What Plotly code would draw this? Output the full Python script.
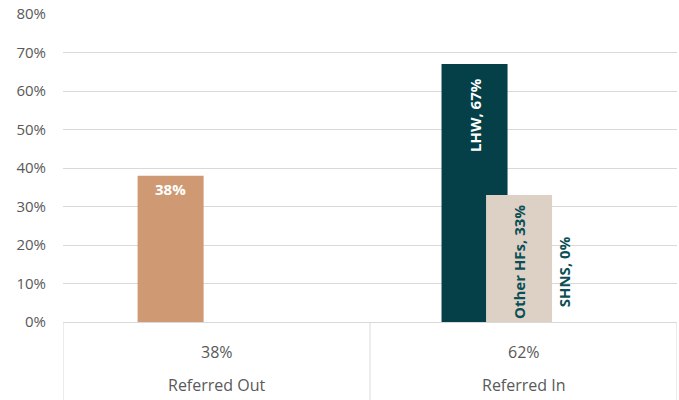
import plotly.graph_objects as go

categories = ["Referred Out", "Referred In"]
category_shares = ["38%", "62%"]

out_value = [0.38]
out_label = ["38%"]
lhw_value = [0.67]
lhw_label = ["LHW, 67%"]
other_value = [0.33]
other_label = ["Other HFs, 33%"]
shns_value = [0.0]
shns_label = ["SHNS, 0%"]

TAN = "#CF9A73"
TEAL = "#053F47"
BEIGE = "#DDD1C6"
TEXT_TEAL = "#0B4E55"
GRID = "#D9D9D9"
GRAY = "#595959"
FONT = "Open Sans"
BW = 0.215
PAD = "\u00a0\u00a0\u00a0"

fig = go.Figure()
fig.add_trace(go.Bar(x=["Referred Out"], y=out_value, text=out_label, width=BW, offset=-0.257,
                     marker=dict(color=TAN, line=dict(width=0)), textposition="inside",
                     insidetextanchor="end", textangle=0, constraintext="none",
                     textfont=dict(color="white", size=15, family=FONT, weight="bold")))
fig.add_trace(go.Bar(x=["Referred In"], y=lhw_value, text=[t + PAD for t in lhw_label], width=BW,
                     offset=-0.267, constraintext="none",
                     marker=dict(color=TEAL, line=dict(width=0)), textposition="inside",
                     insidetextanchor="end", textangle=-90,
                     textfont=dict(color="white", size=15, family=FONT, weight="bold")))
fig.add_trace(go.Bar(x=["Referred In"], y=other_value, text=other_label, width=BW, offset=-0.122,
                     marker=dict(color=BEIGE, line=dict(width=0)), textposition="inside",
                     insidetextanchor="start", textangle=-90, constraintext="none",
                     textfont=dict(color=TEXT_TEAL, size=15, family=FONT, weight="bold")))
fig.add_trace(go.Bar(x=["Referred In"], y=shns_value, text=[PAD + t for t in shns_label], width=BW,
                     offset=0.025, constraintext="none",
                     marker=dict(color=BEIGE, line=dict(width=0)), textposition="outside",
                     textangle=-90, cliponaxis=False,
                     textfont=dict(color=TEXT_TEAL, size=15, family=FONT, weight="bold")))

# table-like category axis
for cat, share in zip(categories, category_shares):
    fig.add_annotation(x=cat, y=-0.097, xref="x", yref="paper", text=share, showarrow=False,
                       font=dict(size=16, color=GRAY, family=FONT), yanchor="middle")
    fig.add_annotation(x=cat, y=-0.205, xref="x", yref="paper", text=cat, showarrow=False,
                       font=dict(size=16, color=GRAY, family=FONT), yanchor="middle")

for xb in [-0.5, 0.5, 1.5]:
    fig.add_shape(type="line", xref="x", yref="paper", x0=xb, x1=xb, y0=0, y1=-0.3,
                  line=dict(color=GRID, width=1))

fig.update_layout(
    width=679, height=400,
    margin=dict(l=63, r=2, t=14, b=78, autoexpand=False),
    barmode="overlay",
    showlegend=False,
    plot_bgcolor="white", paper_bgcolor="white",
    font=dict(family=FONT, color=GRAY),
    xaxis=dict(type="category", categoryorder="array", categoryarray=categories,
               range=[-0.5, 1.5], showticklabels=False, showgrid=False, automargin=False,
               showline=True, linecolor=GRID, linewidth=1, ticks="", zeroline=False),
    yaxis=dict(range=[0, 0.8], dtick=0.1, tickformat=".0%", showgrid=True, gridcolor=GRID,
               gridwidth=1, zeroline=False, showline=False, ticks="", ticklabelstandoff=16,
               automargin=False,
               tickfont=dict(size=15, color=GRAY, family=FONT)),
)

fig.write_html("out.html", config={"displayModeBar": False},
               post_script="document.body.style.margin='0';")
